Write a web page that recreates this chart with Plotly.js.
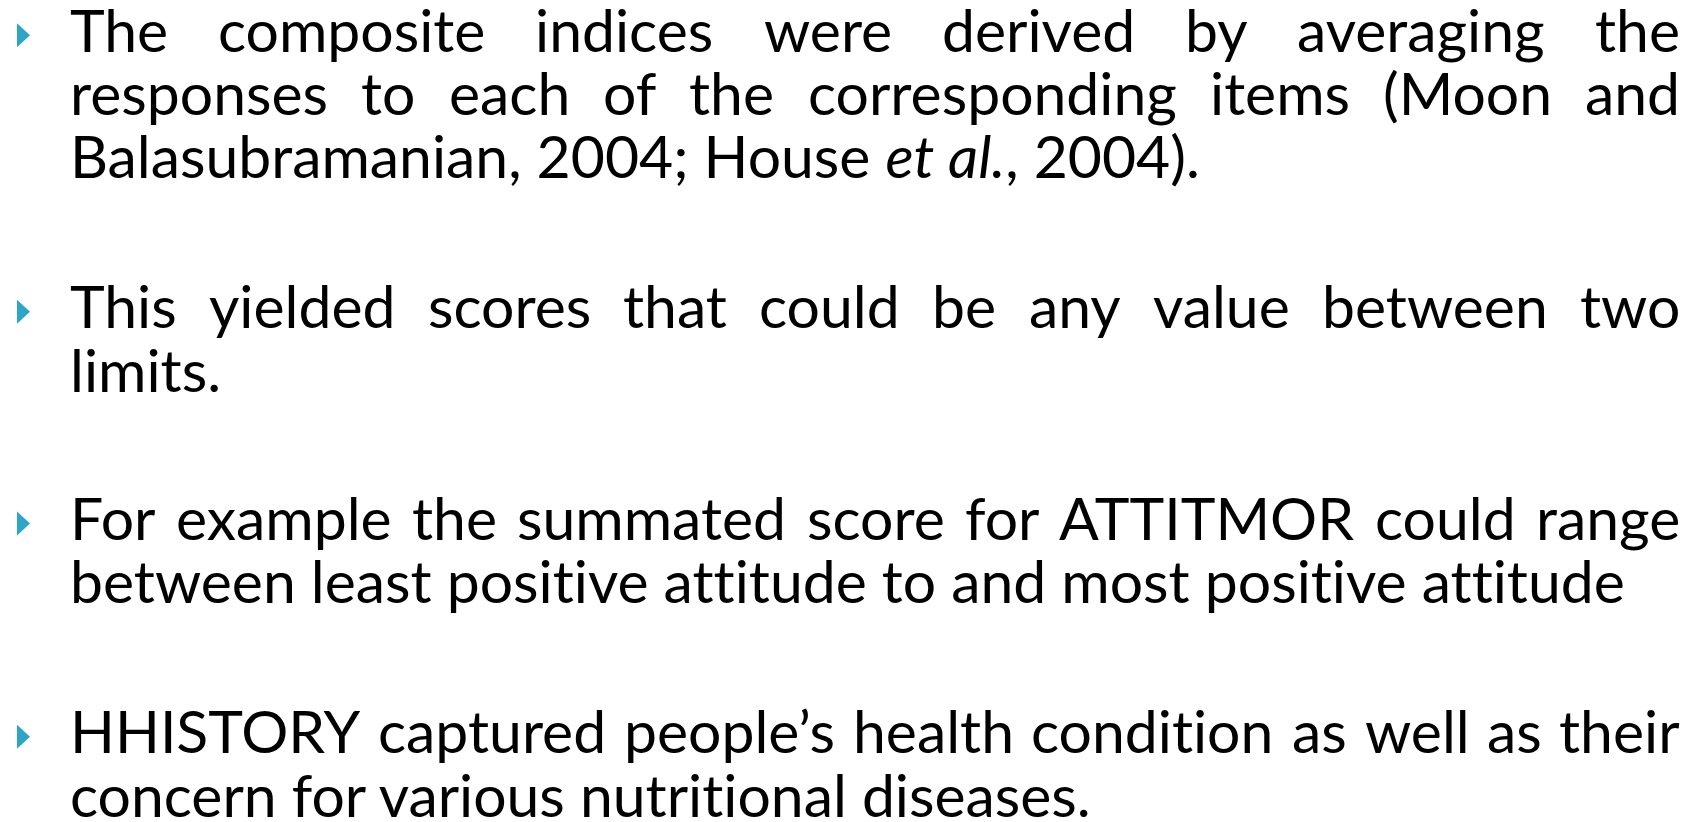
<!DOCTYPE html>
<html><head><meta charset="utf-8">
<script src="https://cdn.plot.ly/plotly-3.0.1.min.js"></script>
<style>
html,body{margin:0;padding:0;background:#fff;overflow:hidden}
svg text{font-variant-ligatures:none;font-feature-settings:"liga" 0,"clig" 0,"dlig" 0;}
</style>
</head><body><div id="chart" style="width:1700px;height:822px"></div>
<script>
// ---- content ----
const bullet1Lines = [
  "The composite indices were derived by averaging the",
  "responses to each of the corresponding items (Moon and",
  "Balasubramanian, 2004; House <i>et al.</i>, 2004)."
];
const bullet2Lines = [
  "This yielded scores that could be any value between two",
  "limits."
];
const bullet3Lines = [
  "For example the summated score for ATTITMOR could range",
  "between least positive attitude to and most positive attitude"
];
const bullet4Lines = [
  "HHISTORY captured people\u2019s health condition as well as their",
  "concern for various nutritional diseases."
];
const bullet1Justify = [true, true, false];
const bullet2Justify = [true, false];
const bullet3Justify = [true, false];
const bullet4Justify = [true, false];

// ---- layout constants ----
const W = 1700, H = 822;
const LEFT = 69, RIGHT = 1679;
const FIRST_BASELINES = [51.7, 328.3, 540, 753.3];
const LINE_STEP = 63.3;
const FONT = 'Lato';
const FIT_LINE = bullet3Lines[1];
const FIT_WIDTH = 1554;
const BULLET_COLOR = '#2CA6C4';

function strip(s){ return s.replace(/<[^>]+>/g, ''); }

async function draw(){
  if (document.fonts && document.fonts.ready) { try { await document.fonts.ready; } catch(e){} }
  const ctx = document.createElement('canvas').getContext('2d');
  ctx.font = `100px ${FONT}`;
  const size = 100 * FIT_WIDTH / ctx.measureText(FIT_LINE).width;
  ctx.font = `${size}px ${FONT}`;
  const m = ctx.measureText('Hg');
  const asc = m.fontBoundingBoxAscent, desc = m.fontBoundingBoxDescent;
  const centerOffset = (asc - desc) / 2;

  const bullets = [bullet1Lines, bullet2Lines, bullet3Lines, bullet4Lines];
  const justs = [bullet1Justify, bullet2Justify, bullet3Justify, bullet4Justify];
  const annotations = [];
  const shapes = [];
  const font = {family: FONT, size: size, color: '#000000'};

  bullets.forEach((lines, b) => {
    const base0 = FIRST_BASELINES[b];
    // bullet triangle centred on x-height of first line
    const cy = base0 - 0.28 * size;
    shapes.push({type: 'path', xref: 'x', yref: 'y', line: {width: 0},
      fillcolor: BULLET_COLOR,
      path: `M 17 ${cy - 12} L 30 ${cy} L 17 ${cy + 12} Z`});
    lines.forEach((line, i) => {
      const baseline = base0 + i * LINE_STEP;
      const yc = baseline - centerOffset;
      if (justs[b][i]) {
        const words = line.split(' ');
        const widths = words.map(w => ctx.measureText(strip(w)).width);
        const total = widths.reduce((a, c) => a + c, 0);
        const gap = (RIGHT - LEFT - total) / (words.length - 1);
        let x = LEFT;
        words.forEach((w, k) => {
          annotations.push({x: x, y: yc, xref: 'x', yref: 'y', text: w, showarrow: false,
            xanchor: 'left', yanchor: 'middle', borderpad: 0, font: font});
          x += widths[k] + gap;
        });
      } else {
        annotations.push({x: LEFT, y: yc, xref: 'x', yref: 'y', text: line, showarrow: false,
          xanchor: 'left', yanchor: 'middle', borderpad: 0, font: font});
      }
    });
  });

  const layout = {
    width: W, height: H,
    margin: {l: 0, r: 0, t: 0, b: 0},
    paper_bgcolor: '#ffffff', plot_bgcolor: '#ffffff',
    xaxis: {range: [0, W], visible: false, fixedrange: true},
    yaxis: {range: [H, 0], visible: false, fixedrange: true},
    showlegend: false,
    annotations: annotations,
    shapes: shapes
  };
  Plotly.newPlot('chart', [], layout, {staticPlot: true, displayModeBar: false});
}
draw();
</script>
</body></html>
